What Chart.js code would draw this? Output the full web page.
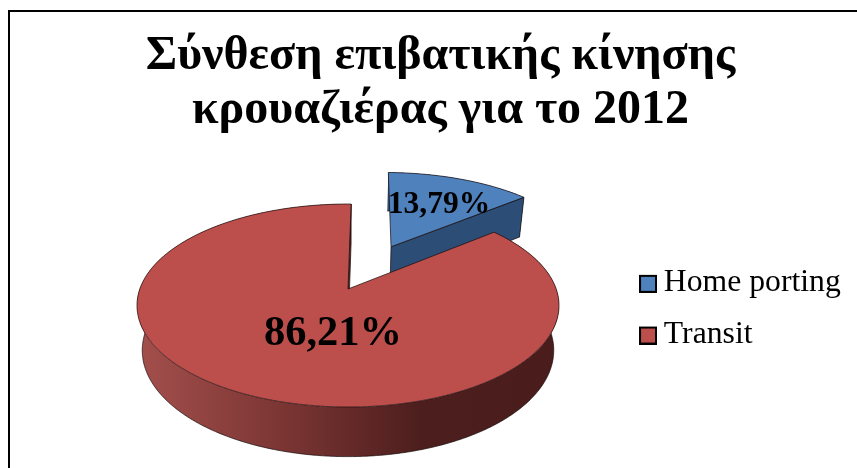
<!doctype html>
<html lang="el">

<head>
    <meta charset="utf-8">
    <title>Σύνθεση επιβατικής κίνησης κρουαζιέρας για το 2012</title>
    <style>
        html, body { margin: 0; padding: 0; background: #fff; overflow: hidden; }
        #frame { position: absolute; left: 8px; top: 10px; width: 900px; height: 500px; border: 2px solid #000; }
        #wrap { position: absolute; left: 0; top: 0; width: 857px; height: 468px; }
    </style>
</head>

<body>
    <div id="frame"></div>
    <div id="wrap"><canvas id="pie-chart"></canvas></div>

    <script src="https://cdn.jsdelivr.net/npm/chart.js"></script>
    <script>
        const titleLines = ['Σύνθεση επιβατικής κίνησης', 'κρουαζιέρας για το 2012'];
        const categories = ['Home porting', 'Transit'];
        const shares = [13.79, 86.21];
        const explode = [0.51, 0];
        const topColors = ['#4F81BD', '#BC4F4C'];

        // Tilted disc: perspective projection of the unit circle onto the page
        const view = { cx: 348, cy: 289, rx: 208.2, ry: 98.8, persp: 0.1627, depth: 44, shrink: 0.975 };
        const labelFonts = [31.5, 42.5];
        const labelSpots = [[439, 204.4], [333, 334]];

        function project(u, v, level) {
            const w = 1 - view.persp * v;
            const s = level ? view.shrink : 1;
            return [
                view.cx + s * view.rx * u / w,
                view.cy + s * view.ry * v / w + level * view.depth / w
            ];
        }

        function tracePoly(ctx, pts) {
            ctx.beginPath();
            pts.forEach((p, i) => i ? ctx.lineTo(p[0], p[1]) : ctx.moveTo(p[0], p[1]));
            ctx.closePath();
        }

        function wallGradient(ctx, index) {
            const g = ctx.createLinearGradient(140, 0, 555, 0);
            if (index === 0) {
                g.addColorStop(0, '#2C4D75');
                g.addColorStop(1, '#2C4D75');
            } else {
                g.addColorStop(0, '#A34F4C');
                g.addColorStop(0.35, '#7A3533');
                g.addColorStop(0.68, '#4C1E1D');
                g.addColorStop(1, '#4A1C1B');
            }
            return g;
        }

        // Replaces the flat arcs with a 3D disc, using the angles the pie controller computed
        const discPlugin = {
            id: 'disc',
            afterLayout(chart) {
                chart.legend.left = 628;
                chart.legend.top = 247;
            },
            beforeDatasetDraw(chart, args) {
                const ctx = chart.ctx;
                args.meta.data.forEach((arc, i) => {
                    const { startAngle, endAngle } = arc.getProps(['startAngle', 'endAngle'], true);
                    const mid = (startAngle + endAngle) / 2;
                    const ou = explode[i] * Math.cos(mid);
                    const ov = explode[i] * Math.sin(mid);
                    const steps = Math.max(8, Math.ceil((endAngle - startAngle) / 0.01));
                    const rim = [];
                    for (let k = 0; k <= steps; k++) {
                        const a = startAngle + (endAngle - startAngle) * k / steps;
                        rim.push([ou + Math.cos(a), ov + Math.sin(a)]);
                    }
                    const last = rim[rim.length - 1];
                    const topOf = p => project(p[0], p[1], 0);
                    const lowOf = p => project(p[0], p[1], 1);

                    ctx.save();
                    ctx.lineJoin = 'round';
                    ctx.strokeStyle = 'rgba(25, 12, 12, 0.9)';
                    ctx.lineWidth = 0.8;
                    const wall = wallGradient(ctx, i);

                    // outer wall
                    tracePoly(ctx, rim.map(topOf).concat(rim.slice().reverse().map(lowOf)));
                    ctx.fillStyle = wall;
                    ctx.fill();
                    ctx.beginPath();
                    rim.map(lowOf).forEach((p, k) => k ? ctx.lineTo(p[0], p[1]) : ctx.moveTo(p[0], p[1]));
                    ctx.stroke();

                    // cut face at the clockwise end, the only one turned towards the viewer
                    tracePoly(ctx, [topOf([ou, ov]), topOf(last), lowOf(last), lowOf([ou, ov])]);
                    ctx.fillStyle = wall;
                    ctx.fill();
                    ctx.stroke();

                    // top face
                    tracePoly(ctx, [topOf([ou, ov])].concat(rim.map(topOf)));
                    ctx.fillStyle = topColors[i];
                    ctx.fill();
                    ctx.stroke();
                    ctx.restore();
                });
                return false;
            },
            afterDatasetsDraw(chart) {
                const ctx = chart.ctx;
                ctx.save();
                ctx.fillStyle = '#000';
                ctx.textAlign = 'center';
                ctx.textBaseline = 'middle';
                shares.forEach((val, i) => {
                    ctx.font = `bold ${labelFonts[i]}px "Liberation Serif"`;
                    ctx.fillText(val.toFixed(2).replace('.', ',') + '%', labelSpots[i][0], labelSpots[i][1]);
                });
                ctx.restore();
            }
        };

        // Legend key: the box sits at the bottom of a taller canvas so it rides just below the text's middle
        function swatch(color) {
            const c = document.createElement('canvas');
            c.width = 18;
            c.height = 20;
            const g = c.getContext('2d');
            g.fillStyle = color;
            g.fillRect(1, 3, 16, 16);
            g.strokeStyle = '#000';
            g.lineWidth = 2;
            g.strokeRect(1, 3, 16, 16);
            return c;
        }

        new Chart(document.getElementById('pie-chart'), {
            type: 'pie',
            data: {
                labels: categories,
                datasets: [{ data: shares, backgroundColor: topColors }]
            },
            options: {
                responsive: true,
                maintainAspectRatio: false,
                animation: false,
                rotation: 1,
                layout: { padding: { left: 24 } },
                plugins: {
                    title: {
                        display: true,
                        text: titleLines,
                        color: '#000',
                        font: { family: '"Liberation Serif"', size: 48, weight: 'bold', lineHeight: 1.125 },
                        padding: { top: 29.3, bottom: 10 }
                    },
                    legend: {
                        position: 'right',
                        align: 'start',
                        labels: {
                            usePointStyle: true,
                            boxWidth: 0.01,
                            padding: 20,
                            color: '#000',
                            font: { family: '"Liberation Serif"', size: 31.7 },
                            generateLabels(chart) {
                                const items = Chart.overrides.pie.plugins.legend.labels.generateLabels(chart);
                                items.forEach((item, i) => { item.pointStyle = swatch(topColors[i]); });
                                return items;
                            }
                        }
                    },
                    tooltip: { enabled: false }
                }
            },
            plugins: [discPlugin]
        });
    </script>
</body>

</html>
